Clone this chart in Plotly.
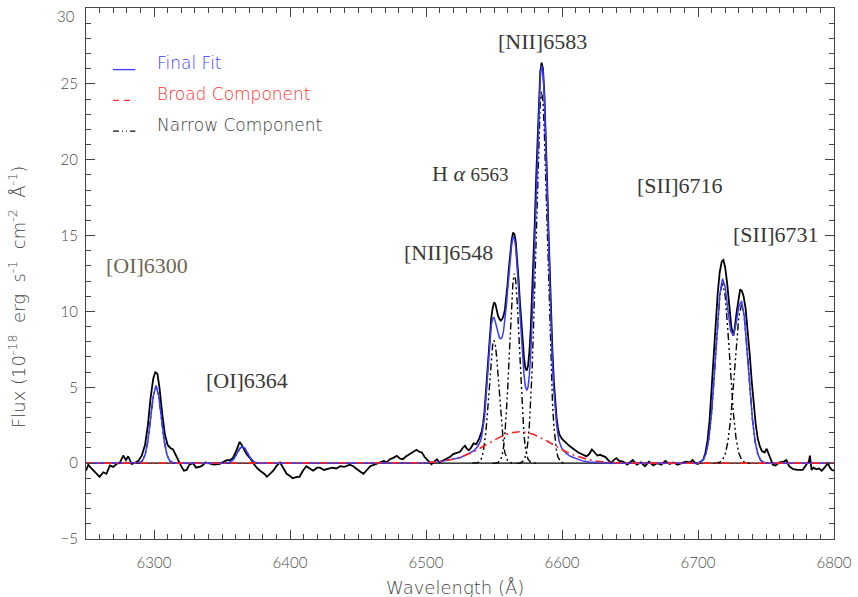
import plotly.graph_objects as go

# ---------------- data ----------------
obs_wl = [6250, 6251.7, 6254, 6256.6, 6260, 6262.7, 6265, 6267.6, 6270, 6272.6, 6275, 6277.4, 6279.4, 6281,
          6283.6, 6286, 6288.5, 6291, 6293.4, 6295.5, 6297.5, 6299.5, 6301, 6302.5, 6304, 6306, 6308, 6310,
          6312, 6314, 6316, 6318, 6320, 6322, 6324, 6326, 6328.7, 6331, 6335, 6338, 6341, 6344, 6348.5, 6351,
          6353.5, 6356, 6358, 6360, 6362, 6363, 6364.5, 6366, 6368, 6369.5, 6371, 6373, 6375.5, 6378, 6381,
          6383, 6385.5, 6387.7, 6390, 6392.6, 6395, 6397.5, 6400, 6402, 6405, 6407, 6409.5, 6412, 6414.5,
          6417, 6420, 6422, 6425, 6428, 6431, 6434, 6437, 6440, 6444, 6446.5, 6449, 6451.5, 6454, 6456.5,
          6459, 6462, 6466, 6469, 6471, 6473.5, 6476, 6478.5, 6481, 6483, 6485.5, 6488, 6490.5, 6493, 6495,
          6497, 6499, 6500.5, 6502, 6504, 6506, 6508, 6510, 6512.5, 6515, 6517.5, 6520, 6522.5, 6525, 6527,
          6528.7, 6530, 6531.5, 6533, 6535, 6537, 6539, 6541, 6542, 6543, 6544, 6545, 6546, 6547, 6548, 6549,
          6550, 6551, 6552, 6553, 6554, 6555, 6556, 6557, 6558, 6559, 6560, 6561, 6562, 6563, 6564, 6565,
          6566, 6567, 6568, 6569, 6570, 6571, 6572, 6573, 6574, 6575, 6576, 6577, 6578, 6579, 6580, 6581,
          6582, 6583, 6584, 6585, 6586, 6587, 6588, 6589, 6590, 6591, 6592, 6593, 6594, 6595, 6596, 6597,
          6598, 6600, 6602, 6604, 6606, 6608, 6610, 6612, 6614, 6616, 6618, 6620, 6622, 6624, 6626, 6628,
          6630, 6632, 6634, 6636, 6638, 6640, 6642, 6645, 6648, 6650, 6652, 6655, 6658, 6661, 6664, 6667,
          6670, 6673, 6676, 6679, 6682, 6685, 6688, 6691, 6694, 6696, 6698, 6700, 6702, 6704, 6705.5, 6707,
          6708.5, 6710, 6711.5, 6713, 6714.5, 6716, 6717.5, 6718.7, 6720, 6721.5, 6723, 6724.5, 6726, 6727,
          6728.5, 6730, 6731, 6732.3, 6733.5, 6735, 6736.5, 6738, 6739.5, 6741, 6742.5, 6744, 6745.5, 6747,
          6749, 6750.5, 6752, 6753.5, 6755, 6757, 6760, 6763, 6765, 6767, 6770, 6773, 6777, 6780, 6781.5,
          6782.3, 6783.5, 6785, 6787, 6789, 6791, 6793, 6795.5, 6797, 6798.5, 6800]
obs_flux = [-0.5, -0.1, -0.35, -0.6, -0.9, -0.6, -0.7, -0.15, -0.25, -0.05, 0.05, 0.5, 0.2, 0.45,
            -0.05, 0.02, 0.15, 0.5, 1.2, 2.5, 4.3, 5.6, 6.0, 5.9, 5.0, 3.3, 1.9, 1.2,
            1.0, 0.9, 0.5, 0.1, -0.2, -0.5, -0.45, -0.1, 0.0, -0.3, -0.2, 0.05, 0.0, -0.1, -0.05, 0.1,
            0.2, 0.2, 0.35, 0.7, 1.2, 1.4, 1.2, 0.9, 0.6, 0.45, 0.3, 0.0, -0.3, -0.5, -0.7,
            -0.9, -0.7, -0.5, -0.2, 0.05, -0.3, -0.7, -0.85, -1.0, -0.9, -0.9, -0.5, -0.2, -0.35,
            -0.5, -0.3, -0.3, -0.45, -0.4, -0.3, -0.35, -0.2, -0.25, -0.1, -0.2, -0.4, -0.55, -0.7, -0.45,
            -0.2, -0.1, 0.05, 0.15, 0.05, 0.26, 0.35, 0.48, 0.3, 0.26, 0.45, 0.6, 0.7, 0.88, 0.75,
            0.7, 0.4, 0.26, 0.1, -0.07, 0.1, 0.26, 0.05, 0.15, 0.26, 0.4, 0.6, 0.7, 0.75, 1.0,
            1.15, 0.95, 0.85, 1.0, 1.3, 1.25, 1.6, 2.1, 2.6, 3.4, 4.6, 5.9, 7.2, 8.5, 9.6, 10.2,
            10.6, 10.5, 10.0, 9.7, 9.5, 9.4, 9.5, 9.7, 10.1, 10.8, 11.8, 12.9, 13.9, 14.7, 15.2, 15.1,
            14.6, 13.6, 12.2, 10.7, 9.3, 8.0, 7.0, 6.3, 6.1, 6.4, 7.3, 8.8, 10.8, 13.2, 15.9, 18.8,
            21.6, 24.0, 25.8, 26.4, 26.0, 24.4, 21.9, 18.8, 15.5, 12.3, 9.6, 7.3, 5.4, 4.0, 3.0, 2.3,
            1.9, 1.6, 1.4, 1.25, 1.1, 0.95, 0.85, 0.7, 0.62, 0.55, 0.45, 0.6, 0.9, 0.7, 0.5, 0.55,
            0.45, 0.4, 0.2, 0.0, 0.2, 0.33, 0.15, 0.1, -0.1, 0.05, 0.2, -0.1, 0.05, -0.2, 0.1, -0.15,
            0.0, -0.1, 0.15, -0.05, 0.05, -0.1, 0.0, 0.1, 0.05, 0.2, 0.0, -0.05, 0.1, 0.25, 0.7, 1.5,
            2.8, 4.9, 7.2, 9.4, 11.2, 12.6, 13.3, 13.4, 12.9, 11.8, 10.3, 9.0, 8.4, 8.9,
            10.0, 11.0, 11.45, 11.35, 11.0, 10.2, 8.9, 7.2, 5.4, 3.8, 2.5, 1.6, 1.1, 0.8,
            0.7, 0.95, 0.6, 0.2, -0.1, -0.15, 0.05, 0.1, 0.2, -0.2, -0.4, -0.45, -0.45, -0.05, 0.1,
            0.5, -0.45, -0.3, -0.4, -0.35, -0.5, -0.3, 0.0, -0.3, -0.45, -0.5]

fit_wl = [6250, 6288, 6289.5, 6291.5, 6293.5, 6295.5, 6297.5, 6299.5, 6301.5, 6303.5, 6305.5, 6307.5,
          6309.5, 6311.5, 6313.5, 6316, 6352, 6355, 6357, 6359, 6361, 6363, 6365, 6367, 6369, 6371, 6373,
          6375, 6378, 6480, 6490, 6500, 6510, 6520, 6525, 6530, 6535, 6538, 6540, 6541, 6542, 6543, 6544,
          6545, 6546, 6547, 6548, 6549, 6550, 6551, 6552, 6553, 6554, 6555, 6556, 6557, 6558, 6559, 6560,
          6561, 6562, 6563, 6564, 6565, 6566, 6567, 6568, 6569, 6570, 6571, 6572, 6573, 6574, 6575, 6576,
          6577, 6578, 6579, 6580, 6581, 6582, 6583, 6584, 6585, 6586, 6587, 6588, 6589, 6590, 6591, 6592,
          6593, 6594, 6595, 6596, 6597, 6598, 6600, 6603, 6606, 6610, 6615, 6620, 6630, 6640, 6698, 6700,
          6702, 6704, 6706, 6708, 6710, 6712, 6714, 6716, 6718, 6720, 6722, 6724, 6726, 6728, 6730, 6732,
          6734, 6736, 6738, 6740, 6742, 6744, 6746, 6748, 6750, 6752, 6800]
fit_flux = [0, 0, 0.04, 0.16, 0.56, 1.47, 2.94, 4.44, 5.1, 4.44, 2.94, 1.47,
            0.56, 0.16, 0.04, 0, 0, 0.035, 0.12, 0.32, 0.63, 0.96, 1.1, 0.96, 0.63, 0.32, 0.12,
            0.035, 0, 0, 0.01, 0.03, 0.1, 0.25, 0.36, 0.56, 0.8, 1.1, 1.45, 1.8, 2.3, 3.0, 4.2,
            5.6, 7.0, 8.2, 9.1, 9.55, 9.6, 9.3, 8.9, 8.5, 8.25, 8.2, 8.3, 8.7, 9.4, 10.3, 11.4,
            12.5, 13.6, 14.4, 14.9, 14.8, 14.2, 13.1, 11.6, 10.0, 8.4, 7.0, 5.9, 5.1, 4.8, 5.0, 5.8,
            7.2, 9.2, 11.7, 14.6, 17.7, 20.8, 23.5, 25.4, 26.2, 25.8, 24.2, 21.6, 18.4, 15.0, 11.8, 8.9,
            6.5, 4.8, 3.6, 2.6, 1.9, 1.4, 0.95, 0.65, 0.45, 0.3, 0.15, 0.08, 0.03, 0, 0, 0.02,
            0.07, 0.24, 0.67, 1.61, 3.32, 5.82, 8.7, 11.09, 12.16, 11.62, 10.09, 8.73, 8.41, 9.2, 10.32, 10.69,
            9.72, 7.61, 5.09, 2.91, 1.41, 0.59, 0.21, 0.06, 0.02, 0, 0]

broad_wl = [6250, 6480, 6499, 6509, 6514, 6519, 6524, 6529, 6534, 6539, 6544, 6549, 6554, 6559, 6564,
            6569, 6574, 6579, 6584, 6589, 6594, 6599, 6604, 6609, 6614, 6619, 6624, 6629, 6639, 6660, 6800]
broad_flux = [0, 0, 0.03, 0.09, 0.15, 0.24, 0.36, 0.52, 0.71, 0.95, 1.20, 1.46, 1.70, 1.90, 2.02,
              2.07, 2.02, 1.90, 1.70, 1.46, 1.20, 0.95, 0.71, 0.52, 0.36, 0.24, 0.15, 0.09, 0.03, 0, 0]

n6300_wl = [6287, 6289.5, 6291.5, 6293.5, 6295.5, 6297.5, 6299.5, 6301.5, 6303.5, 6305.5, 6307.5,
            6309.5, 6311.5, 6313.5, 6316]
n6300_flux = [0, 0.04, 0.16, 0.56, 1.47, 2.94, 4.44, 5.1, 4.44, 2.94, 1.47, 0.56, 0.16, 0.04, 0]

n6364_wl = [6351, 6353, 6355, 6357, 6359, 6361, 6363, 6365, 6367, 6369, 6371, 6373, 6375, 6377, 6379]
n6364_flux = [0, 0.01, 0.035, 0.12, 0.32, 0.63, 0.96, 1.1, 0.96, 0.63, 0.32, 0.12, 0.035, 0.01, 0]

n6548_wl = [6534, 6536, 6538, 6540, 6541, 6542, 6543, 6544, 6545, 6546, 6547, 6548, 6549, 6550, 6551,
            6552, 6553, 6554, 6555, 6556, 6557, 6558, 6559, 6560, 6562, 6564, 6566]
n6548_flux = [0, 0, 0.03, 0.17, 0.36, 0.69, 1.22, 2.02, 3.09, 4.37, 5.73, 6.94, 7.79, 8.1, 7.79,
              6.94, 5.73, 4.37, 3.09, 2.02, 1.22, 0.69, 0.36, 0.17, 0.03, 0, 0]

nha_wl = [6549, 6551, 6553, 6555, 6556, 6557, 6558, 6559, 6560, 6561, 6562, 6563, 6564, 6565, 6566,
          6567, 6568, 6569, 6570, 6571, 6572, 6573, 6574, 6575, 6577, 6579, 6581]
nha_flux = [0, 0, 0.05, 0.26, 0.55, 1.06, 1.89, 3.11, 4.76, 6.74, 8.84, 10.7, 12.0, 12.5, 12.0,
            10.7, 8.84, 6.74, 4.76, 3.11, 1.89, 1.06, 0.55, 0.26, 0.05, 0, 0]

n6583_wl = [6567, 6569, 6571, 6573, 6574, 6575, 6576, 6577, 6578, 6579, 6580, 6581, 6582, 6583, 6584,
            6585, 6586, 6587, 6588, 6589, 6590, 6591, 6592, 6593, 6594, 6595, 6596, 6597, 6599, 6601, 6603]
n6583_flux = [0, 0, 0.1, 0.41, 0.79, 1.44, 2.47, 3.99, 6.10, 8.82, 12.05, 15.6, 19.0, 21.9, 23.8,
              24.5, 23.8, 21.9, 19.0, 15.6, 12.05, 8.82, 6.10, 3.99, 2.47, 1.44, 0.79, 0.41, 0.1, 0, 0]

n6716_wl = [6698, 6700, 6702, 6704, 6706, 6708, 6710, 6712, 6714, 6716, 6718, 6720, 6722, 6724, 6726,
            6728, 6730, 6732, 6734, 6736, 6738]
n6716_flux = [0, 0.02, 0.07, 0.24, 0.67, 1.61, 3.32, 5.82, 8.68, 11.03, 11.95, 11.03, 8.68, 5.82, 3.32,
              1.61, 0.67, 0.24, 0.07, 0.02, 0]

n6731_wl = [6712, 6714, 6716, 6718, 6720, 6722, 6724, 6726, 6728, 6730, 6732, 6734, 6736, 6738, 6740,
            6742, 6744, 6746, 6748, 6750, 6752]
n6731_flux = [0, 0.02, 0.06, 0.21, 0.59, 1.41, 2.91, 5.09, 7.59, 9.65, 10.45, 9.65, 7.59, 5.09, 2.91,
              1.41, 0.59, 0.21, 0.06, 0.02, 0]

narrow_sets = [(n6300_wl, n6300_flux), (n6364_wl, n6364_flux), (n6548_wl, n6548_flux),
               (nha_wl, nha_flux), (n6583_wl, n6583_flux), (n6716_wl, n6716_flux), (n6731_wl, n6731_flux)]

line_labels = ["[NII]6583", "H <i>α</i> <span style='font-size:19px'>6563</span>", "[SII]6716",
               "[SII]6731", "[NII]6548", "[OI]6300", "[OI]6364"]
label_wl = [6586, 6532.4, 6686.8, 6757.4, 6516.2, 6294.9, 6368.4]
label_flux = [27.8, 19.1, 18.3, 15.1, 13.9, 13.05, 5.47]
label_colors = ["#3a3835", "#3a3835", "#3a3835", "#3a3835", "#3a3835", "#6e6652", "#3a3835"]

legend_names = ["Final Fit", "Broad Component", "Narrow Component"]
legend_colors = ["#3c3cff", "#ff3030", "#3a3a3a"]
legend_line_colors = ["#3b3bff", "#ff2a2a", "#111111"]
legend_dashes = ["solid", "6px,5px", "6px,3px,1px,3px,1px,3px"]

x_ticks = [6300, 6400, 6500, 6600, 6700, 6800]
y_ticks = [-5, 0, 5, 10, 15, 20, 25, 30]
y_ticktext = ["−5", "0", "5", "10", "15", "20", "25", ""]   # the top label is placed separately
y_top_label = "30"

# ---------------- figure ----------------
BLUE = "#3b3bff"
RED = "#ff2020"
NDASH = "7px,3px,2px,3px,2px,3px"
RDASH = "8px,4px,2px,4px"

fig = go.Figure()

fig.add_trace(go.Scatter(x=[6250, 6800], y=[0, 0], mode="lines",
                         line=dict(color="black", width=1.2), showlegend=False, hoverinfo="skip"))
fig.add_trace(go.Scatter(x=obs_wl, y=obs_flux, mode="lines",
                         line=dict(color="black", width=1.8), showlegend=False))
for wl, fl in narrow_sets:
    fig.add_trace(go.Scatter(x=wl, y=fl, mode="lines",
                             line=dict(color="black", width=1.4, dash=NDASH), showlegend=False))
fig.add_trace(go.Scatter(x=fit_wl, y=fit_flux, mode="lines",
                         line=dict(color=BLUE, width=1.5), showlegend=False))
fig.add_trace(go.Scatter(x=broad_wl, y=broad_flux, mode="lines",
                         line=dict(color=RED, width=1.6, dash=RDASH), showlegend=False))

AX = "#444444"
TICKFONT = dict(family="Lato, 'Open Sans', sans-serif", size=15, color="#4a4a4a", weight=300)
SANS = dict(family="DejaVu Sans, sans-serif", size=18, color="#444444", weight=200)

fig.update_xaxes(range=[6250, 6800], tickvals=x_ticks, ticks="inside", ticklen=9, tickwidth=1,
                 tickcolor=AX, showline=True, linecolor=AX, linewidth=1, mirror="ticks",
                 showgrid=False, zeroline=False, tickfont=TICKFONT, ticklabelstandoff=10,
                 ticklabeloverflow="allow", automargin=False,
                 minor=dict(dtick=10, tick0=6250, ticks="inside", ticklen=5, tickcolor=AX, showgrid=False))
fig.update_yaxes(range=[-5, 30], tickvals=y_ticks, ticktext=y_ticktext, ticks="inside", ticklen=9,
                 tickwidth=1, tickcolor=AX, showline=True, linecolor=AX, linewidth=1, mirror="ticks",
                 showgrid=False, zeroline=False, tickfont=TICKFONT, ticklabelstandoff=4,
                 ticklabeloverflow="allow", automargin=False,
                 minor=dict(dtick=1, tick0=0, ticks="inside", ticklen=5, tickcolor=AX, showgrid=False))

annotations = []
for txt, lx, ly, col in zip(line_labels, label_wl, label_flux, label_colors):
    annotations.append(dict(x=lx, y=ly, xref="x", yref="y", text=txt, showarrow=False,
                            font=dict(family="Liberation Serif, serif", size=22, color=col),
                            xanchor="center", yanchor="middle"))

# top y tick label, set slightly below the frame as in the reference
annotations.append(dict(x=-0.0115, y=0.985, xref="paper", yref="paper", text=y_top_label,
                        showarrow=False, font=TICKFONT, xanchor="right", yanchor="middle"))

annotations.append(dict(x=0.493, y=-0.091, xref="paper", yref="paper", text="Wavelength (Å)",
                        showarrow=False, font=SANS, xanchor="center", yanchor="middle"))
annotations.append(dict(x=-0.092, y=0.456, xref="paper", yref="paper",
                        text="Flux (10<sup>-18</sup>&nbsp; erg&nbsp; s<sup>-1</sup>&nbsp; cm<sup>-2</sup>&nbsp; Å<sup>-1</sup>)",
                        textangle=-90, showarrow=False, font=SANS,
                        xanchor="center", yanchor="middle"))

shapes = []
leg_y = [0.896, 0.838, 0.780]
for name, tcol, lcol, dsh, yy in zip(legend_names, legend_colors, legend_line_colors, legend_dashes, leg_y):
    annotations.append(dict(x=0.092, y=yy, xref="paper", yref="paper", text=name, showarrow=False,
                            font=dict(family="DejaVu Sans, sans-serif", size=17, color=tcol, weight=200),
                            xanchor="left", yanchor="middle"))
    shapes.append(dict(type="line", xref="paper", yref="paper", x0=0.036, x1=0.066,
                       y0=yy - 0.012, y1=yy - 0.012, line=dict(color=lcol, width=1.3, dash=dsh)))

fig.update_layout(width=858, height=597, margin=dict(l=86, r=24, t=8, b=58, autoexpand=False),
                  paper_bgcolor="white", plot_bgcolor="white", showlegend=False,
                  annotations=annotations, shapes=shapes)

fig.write_html("out.html")
